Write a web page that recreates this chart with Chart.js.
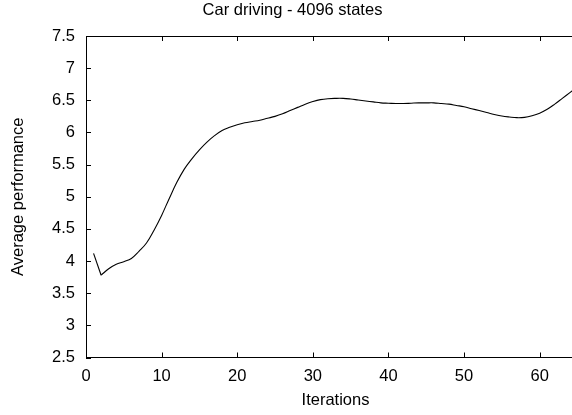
<!DOCTYPE html>
<html lang="en">
<head>
  <meta charset="UTF-8">
  <title>Car driving - 4096 states</title>
  <script src="https://cdn.jsdelivr.net/npm/chart.js"></script>
  <style>
    html, body { margin: 0; padding: 0; background: #fff; overflow: hidden; }
    #wrap { position: relative; width: 585px; height: 415px; }
  </style>
</head>
<body>
  <div id="wrap"><canvas id="chart"></canvas></div>

  <script>
    // Data
    const chartTitle = 'Car driving - 4096 states';
    const xTitle = 'Iterations';
    const yTitle = 'Average performance';

    const iterations = [
      1, 2, 3, 4, 5, 6, 7, 8, 9, 10,
      11, 12, 13, 14, 15, 16, 17, 18, 19, 20,
      21, 22, 23, 24, 25, 26, 27, 28, 29, 30,
      31, 32, 33, 34, 35, 36, 37, 38, 39, 40,
      41, 42, 43, 44, 45, 46, 47, 48, 49, 50,
      51, 52, 53, 54, 55, 56, 57, 58, 59, 60,
      61, 62, 63, 64, 65
    ];
    const performance = [
      4.12, 3.78, 3.88, 3.95, 3.99, 4.04, 4.15, 4.28, 4.48, 4.71,
      4.97, 5.22, 5.43, 5.59, 5.73, 5.85, 5.95, 6.03, 6.08, 6.12,
      6.15, 6.17, 6.19, 6.22, 6.25, 6.29, 6.34, 6.39, 6.44, 6.48,
      6.51, 6.525, 6.53, 6.53, 6.52, 6.505, 6.49, 6.475, 6.46, 6.455,
      6.45, 6.45, 6.455, 6.46, 6.46, 6.46, 6.45, 6.44, 6.42, 6.40,
      6.37, 6.34, 6.31, 6.28, 6.255, 6.24, 6.23, 6.235, 6.26, 6.30,
      6.36, 6.44, 6.53, 6.62, 6.71
    ];

    const yTicks = [2.5, 3, 3.5, 4, 4.5, 5, 5.5, 6, 6.5, 7, 7.5];
    const xTicks = [0, 10, 20, 30, 40, 50, 60];

    const points = iterations.map((x, i) => ({ x: x, y: performance[i] }));

    Chart.defaults.font.family = '"Liberation Sans", Arial, sans-serif';
    Chart.defaults.font.size = 16.5;
    Chart.defaults.color = '#000';

    // gnuplot-like tick marks pointing into the plot
    const inwardTicks = {
      id: 'inwardTicks',
      afterDraw(chart) {
        const ctx = chart.ctx;
        const a = chart.chartArea;
        const len = 5;
        ctx.save();
        ctx.strokeStyle = '#000';
        ctx.lineWidth = 1;
        ctx.beginPath();
        xTicks.forEach(v => {
          const px = Math.round(chart.scales.x.getPixelForValue(v)) + 0.5;
          ctx.moveTo(px, a.bottom);
          ctx.lineTo(px, a.bottom - len);
          ctx.moveTo(px, a.top);
          ctx.lineTo(px, a.top + len);
        });
        yTicks.forEach(v => {
          const py = Math.round(chart.scales.y.getPixelForValue(v)) + 0.5;
          ctx.moveTo(a.left, py);
          ctx.lineTo(a.left + len, py);
          ctx.moveTo(a.right, py);
          ctx.lineTo(a.right - len, py);
        });
        ctx.stroke();
        ctx.restore();
      }
    };

    const noGrid = { drawOnChartArea: false, drawTicks: false };
    const frame = { display: true, color: '#000', width: 1 };

    new Chart(document.getElementById('chart'), {
      type: 'line',
      data: {
        datasets: [
          {
            // the first step is drawn straight, the rest smoothed
            data: points.slice(0, 2),
            borderColor: '#000',
            borderWidth: 1.1,
            pointRadius: 0,
            tension: 0
          },
          {
            data: points.slice(1),
            borderColor: '#000',
            borderWidth: 1.1,
            pointRadius: 0,
            tension: 0.4
          }
        ]
      },
      options: {
        responsive: true,
        maintainAspectRatio: false,
        animation: false,
        layout: { padding: 0 },
        plugins: {
          legend: { display: false },
          tooltip: { enabled: false },
          title: {
            display: true,
            text: chartTitle,
            font: { size: 16.5, weight: 'normal' },
            padding: { top: 1, bottom: 15.2 }
          }
        },
        scales: {
          x: {
            type: 'linear',
            position: 'bottom',
            min: 0,
            max: 66,
            afterBuildTicks: s => { s.ticks = xTicks.map(v => ({ value: v })); },
            afterFit: s => { s.height = 57.5; },
            grid: noGrid,
            border: frame,
            ticks: { padding: 9, maxRotation: 0 },
            title: { display: true, text: xTitle, padding: { top: 0, bottom: 5 } }
          },
          xTop: {
            type: 'linear',
            position: 'top',
            min: 0,
            max: 66,
            afterFit: s => { s.height = 0; },
            grid: noGrid,
            border: frame,
            ticks: { display: false }
          },
          y: {
            min: 2.5,
            max: 7.5,
            afterBuildTicks: s => { s.ticks = yTicks.map(v => ({ value: v })); },
            afterFit: s => { s.width = 86; },
            grid: noGrid,
            border: frame,
            ticks: { padding: 11, callback: v => String(v) },
            title: { display: true, text: yTitle, padding: { top: 9, bottom: 0 } }
          }
        }
      },
      plugins: [inwardTicks]
    });
  </script>
</body>
</html>
